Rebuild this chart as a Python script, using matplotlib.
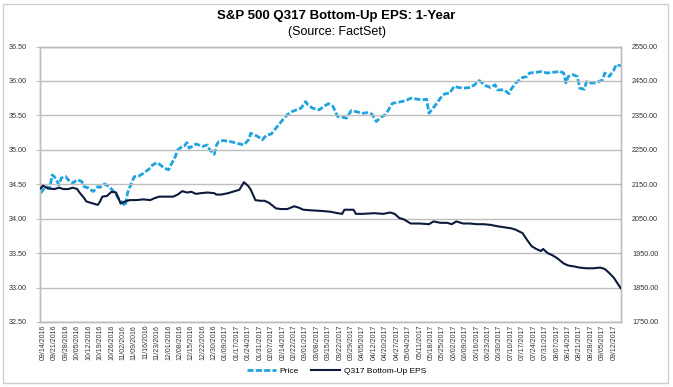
"""
S&P 500 Q317 bottom-up EPS vs. price, one-year view.
"""
import numpy as np
import matplotlib
matplotlib.use("Agg")
import matplotlib.pyplot as plt
from matplotlib.lines import Line2D
from matplotlib.patches import Rectangle

plt.rcParams["font.family"] = ["Liberation Sans", "DejaVu Sans"]

# weekly category labels (every 5th trading day)
date_labels = [
    "09/14/2016", "09/21/2016", "09/28/2016", "10/05/2016", "10/12/2016",
    "10/19/2016", "10/26/2016", "11/02/2016", "11/09/2016", "11/16/2016",
    "11/23/2016", "12/01/2016", "12/08/2016", "12/15/2016", "12/22/2016",
    "12/30/2016", "01/09/2017", "01/17/2017", "01/24/2017", "01/31/2017",
    "02/07/2017", "02/14/2017", "02/22/2017", "03/01/2017", "03/08/2017",
    "03/15/2017", "03/22/2017", "03/29/2017", "04/05/2017", "04/12/2017",
    "04/20/2017", "04/27/2017", "05/04/2017", "05/11/2017", "05/18/2017",
    "05/25/2017", "06/02/2017", "06/09/2017", "06/16/2017", "06/23/2017",
    "06/30/2017", "07/10/2017", "07/17/2017", "07/24/2017", "07/31/2017",
    "08/07/2017", "08/14/2017", "08/21/2017", "08/28/2017", "09/05/2017",
    "09/12/2017",
]

# S&P 500 price (right axis), trading-day number since 09/14/2016
price_day = [
    -1, 1, 3, 4, 5, 7, 8, 10, 11, 13, 14, 15, 17, 18, 20, 22, 24, 25, 27, 29,
    31, 33, 35, 36, 37, 39, 40, 42, 44, 45, 47, 48, 50, 52, 53, 55, 56, 58, 59,
    61, 62, 63, 64, 66, 67, 69, 70, 72, 73, 75, 76, 77, 79, 82, 85, 88, 90, 91,
    94, 96, 98, 100, 102, 105, 107, 109, 111, 113, 115, 116, 118, 121, 123,
    125, 127, 129, 131, 133, 135, 137, 140, 142, 144, 146, 148, 150, 153, 155,
    157, 159, 161, 164, 166, 168, 169, 172, 174, 176, 178, 180, 182, 184, 187,
    189, 191, 194, 196, 198, 199, 202, 204, 205, 207, 210, 212, 213, 216, 218,
    221, 223, 225, 226, 228, 229, 230, 232, 234, 235, 237, 238, 240, 242, 245,
    246, 248, 250, 251, 253,
]
price = [
    2124, 2143, 2139, 2177, 2172, 2148, 2168, 2172, 2163, 2153, 2158, 2163,
    2158, 2143, 2139, 2129, 2143, 2141, 2151, 2143, 2129, 2110, 2095, 2087,
    2124, 2158, 2172, 2174, 2182, 2187, 2197, 2206, 2213, 2203, 2197, 2192,
    2206, 2231, 2250, 2260, 2262, 2271, 2255, 2262, 2267, 2262, 2260, 2264,
    2250, 2237, 2264, 2274, 2277, 2274, 2269, 2264, 2279, 2298, 2289, 2279,
    2293, 2296, 2313, 2337, 2352, 2361, 2366, 2371, 2390, 2381, 2371, 2366,
    2376, 2384, 2376, 2347, 2345, 2342, 2364, 2361, 2356, 2358, 2354, 2332,
    2345, 2352, 2385, 2387, 2390, 2393, 2400, 2397, 2395, 2397, 2356, 2381,
    2400, 2413, 2414, 2434, 2431, 2429, 2431, 2439, 2451, 2436, 2431, 2439,
    2424, 2424, 2413, 2426, 2444, 2460, 2463, 2473, 2475, 2477, 2473, 2475,
    2476, 2479, 2473, 2444, 2463, 2468, 2463, 2429, 2426, 2448, 2444, 2444,
    2453, 2473, 2463, 2482, 2497, 2494,
]

# Q317 bottom-up EPS (left axis)
eps_day = [
    -1, 0, 2, 5, 7, 9, 11, 13, 15, 16, 18, 19, 21, 24, 25, 26, 28, 30, 32, 33,
    34, 36, 38, 41, 44, 47, 49, 51, 54, 57, 59, 61, 63, 65, 67, 69, 72, 75, 76,
    78, 81, 83, 86, 88, 90, 91, 93, 95, 97, 99, 102, 104, 107, 110, 112, 114,
    118, 123, 126, 129, 131, 132, 136, 137, 140, 145, 149, 152, 154, 156, 158,
    161, 165, 169, 171, 174, 177, 179, 181, 184, 187, 190, 193, 196, 199, 203,
    205, 207, 210, 212, 214, 216, 218, 219, 221, 223, 225, 228, 230, 232, 235,
    238, 241, 244, 246, 248, 250, 252, 253,
]
eps = [
    34.44, 34.48, 34.44, 34.43, 34.45, 34.43, 34.43, 34.45, 34.43, 34.38,
    34.30, 34.25, 34.23, 34.20, 34.25, 34.32, 34.33, 34.39, 34.38, 34.30,
    34.22, 34.25, 34.27, 34.27, 34.28, 34.27, 34.30, 34.32, 34.32, 34.32,
    34.35, 34.40, 34.38, 34.39, 34.36, 34.37, 34.38, 34.37, 34.35, 34.35,
    34.37, 34.39, 34.42, 34.53, 34.47, 34.42, 34.27, 34.26, 34.26, 34.23,
    34.15, 34.14, 34.14, 34.18, 34.16, 34.13, 34.12, 34.11, 34.10, 34.08,
    34.07, 34.13, 34.13, 34.07, 34.07, 34.08, 34.07, 34.09, 34.07, 34.01,
    33.99, 33.93, 33.93, 33.92, 33.96, 33.94, 33.94, 33.92, 33.96, 33.93,
    33.93, 33.92, 33.92, 33.91, 33.89, 33.87, 33.86, 33.84, 33.79, 33.69,
    33.60, 33.56, 33.53, 33.56, 33.50, 33.47, 33.43, 33.35, 33.32, 33.31,
    33.29, 33.28, 33.28, 33.29, 33.27, 33.21, 33.14, 33.04, 32.99,
]

PRICE_COLOR = "#1FA3E1"
EPS_COLOR = "#0E1A3D"
GRID_COLOR = "#BDBDBD"

fig = plt.figure(figsize=(6.73, 3.87), dpi=100)
ax = fig.add_axes([40 / 673, 1 - 322 / 387, 581 / 673, 275.5 / 387])
ax2 = ax.twinx()

ax2.plot(price_day, price, color=PRICE_COLOR, lw=2.0, dashes=(2.2, 0.8), zorder=2)
ax.plot(eps_day, eps, color=EPS_COLOR, lw=1.5, zorder=3)
ax.set_zorder(ax2.get_zorder() + 1)
ax.patch.set_visible(False)

ax.set_ylim(32.5, 36.5)
ax.set_yticks(np.arange(32.5, 36.51, 0.5))
ax.set_yticklabels([f"{v:.2f}" for v in np.arange(32.5, 36.51, 0.5)])
ax2.set_ylim(1750, 2550)
ax2.set_yticks(np.arange(1750, 2551, 100))
ax2.set_yticklabels([f"{v:.2f}" for v in np.arange(1750, 2551, 100)])

tick_pos = np.arange(len(date_labels)) * 5
ax.set_xlim(-1.3, 253.1)
ax.set_xticks(tick_pos)
ax.set_xticklabels(date_labels, rotation=90, fontsize=5, color="#333333")

ax.grid(axis="y", color=GRID_COLOR, lw=1.0)
ax.set_axisbelow(True)
for a in (ax, ax2):
    for side in ("left", "right", "bottom", "top"):
        a.spines[side].set_color(GRID_COLOR)
        a.spines[side].set_linewidth(1.0)
ax.tick_params(axis="y", labelsize=5.2, length=3, pad=6.5, colors="#333333",
               color=GRID_COLOR)
ax2.tick_params(axis="y", labelsize=5.2, length=0, pad=8, colors="#333333")
ax.tick_params(axis="x", length=0, pad=2)

fig.text(0.5, 1 - 16 / 387, "S&P 500 Q317 Bottom-Up EPS: 1-Year", ha="center",
         va="center", fontsize=9.5, fontweight="bold")
fig.text(0.5, 1 - 32 / 387, "(Source: FactSet)", ha="center", va="center",
         fontsize=9)

handles = [
    Line2D([], [], color=PRICE_COLOR, lw=2.0, dashes=(2.2, 0.8)),
    Line2D([], [], color=EPS_COLOR, lw=1.5),
]
fig.legend(handles, ["Price", "Q317 Bottom-Up EPS"], loc="center",
           bbox_to_anchor=(0.5, 1 - 371 / 387), ncol=2, frameon=False,
           fontsize=6, handlelength=3.5, columnspacing=1.5, handletextpad=0.4)

fig.add_artist(Rectangle((3 / 673, 4 / 387), 665 / 673, 379 / 387,
                         transform=fig.transFigure, fill=False,
                         edgecolor="#CFCFCF", lw=1.0))

plt.savefig("out.png", dpi=100)
